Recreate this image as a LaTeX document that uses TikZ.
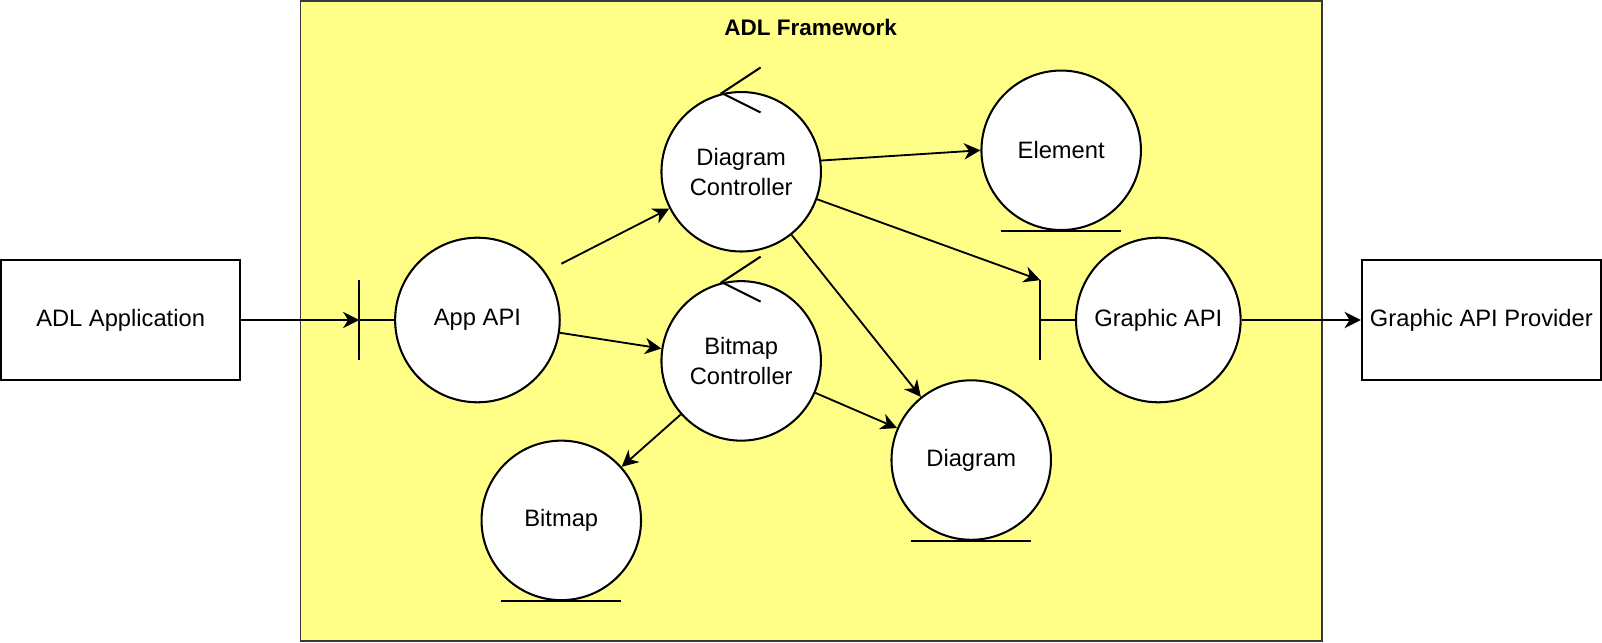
\documentclass[tikz,border=0pt]{standalone}
\usepackage{fontspec}
\setmainfont{Liberation Sans}
\usetikzlibrary{arrows.meta}

\definecolor{amarillo}{HTML}{FFFF88}
\definecolor{borde}{HTML}{36393D}

\tikzset{
  objeto/.style={circle, draw, line width=1pt, fill=white, minimum size=78pt,
    inner sep=0pt, align=center, font=\fontsize{11.6}{14.5}\selectfont},
  interfaz/.style={objeto, minimum size=80.5pt},
  caja/.style={rectangle, draw, line width=0.9pt, fill=white, minimum width=117pt,
    minimum height=58.5pt, inner sep=0pt, font=\fontsize{11.6}{14.5}\selectfont},
  flecha/.style={line width=0.9pt, -{Stealth[length=8pt, width=8pt, inset=2.5pt]}},
  linea/.style={line width=1pt},
}

\begin{document}
\begin{tikzpicture}[x=0.5pt, y=-0.5pt]
  \useasboundingbox (0,0) rectangle (1567,628);

  % Paso 1: El marco del framework y su titulo
  \node[draw=borde, fill=amarillo, line width=0.8pt, minimum width=499.5pt,
    minimum height=313pt, inner sep=0pt] (marco) at (793.5,314) {};
  \node[font=\bfseries\fontsize{11}{14}\selectfont] (titulo) at (793,27) {ADL Framework};

  % Paso 2: Las cajas externas
  \node[caja] (aplicacion) at (118,313) {ADL Application};
  \node[caja] (proveedor) at (1449,313) {Graphic API Provider};

  % Paso 3: Las interfaces (boundary)
  \node[interfaz] (appapi) at (467,313) {App API};
  \node[interfaz] (grafapi) at (1133,313) {Graphic API};
  \coordinate (bordeApp) at ([xshift=-17pt]appapi.west);
  \coordinate (bordeGraf) at ([xshift=-17pt]grafapi.west);
  \coordinate (bordeGrafSup) at ([yshift=19.5pt]bordeGraf);
  \draw[linea] ([yshift=19.5pt]bordeApp) -- ([yshift=-19.5pt]bordeApp);
  \draw[linea] (bordeApp) -- (appapi.west);
  \draw[linea] (bordeGrafSup) -- ([yshift=-19.5pt]bordeGraf);
  \draw[linea] (bordeGraf) -- (grafapi.west);

  % Paso 4: Los controladores (control)
  \node[objeto] (diagctrl) at (725,168) {Diagram\\Controller};
  \node[objeto] (bitctrl) at (725,353) {Bitmap\\Controller};
  \foreach \c in {diagctrl,bitctrl} {
    \draw[linea] ([xshift=9.5pt, yshift=11.5pt]\c.north)
      -- ([xshift=-9.5pt, yshift=-1pt]\c.north)
      -- ([xshift=9.5pt, yshift=-10.5pt]\c.north);
  }

  % Paso 5: Las entidades (entity)
  \node[objeto] (elemento) at (1038,147) {Element};
  \node[objeto] (diagrama) at (950,450) {Diagram};
  \node[objeto] (bitmap) at (549,509) {Bitmap};
  \foreach \e in {elemento,diagrama,bitmap} {
    \draw[linea] ([xshift=-29.25pt]\e.south) -- ([xshift=29.25pt]\e.south);
  }

  % Paso 6: Las conexiones
  \coordinate (salidaApp) at (549,258);
  \draw[flecha] (aplicacion.east) -- (bordeApp);
  \draw[flecha] (salidaApp) -- (diagctrl);
  \draw[flecha] (appapi) -- (bitctrl);
  \draw[flecha] (diagctrl.8) -- (elemento.west);
  \draw[flecha] (diagctrl) -- (bordeGrafSup);
  \draw[flecha] (diagctrl) -- (diagrama);
  \draw[flecha] (bitctrl) -- (diagrama);
  \draw[flecha] (bitctrl) -- (bitmap);
  \draw[flecha] (grafapi.east) -- (proveedor.west);
\end{tikzpicture}
\end{document}
